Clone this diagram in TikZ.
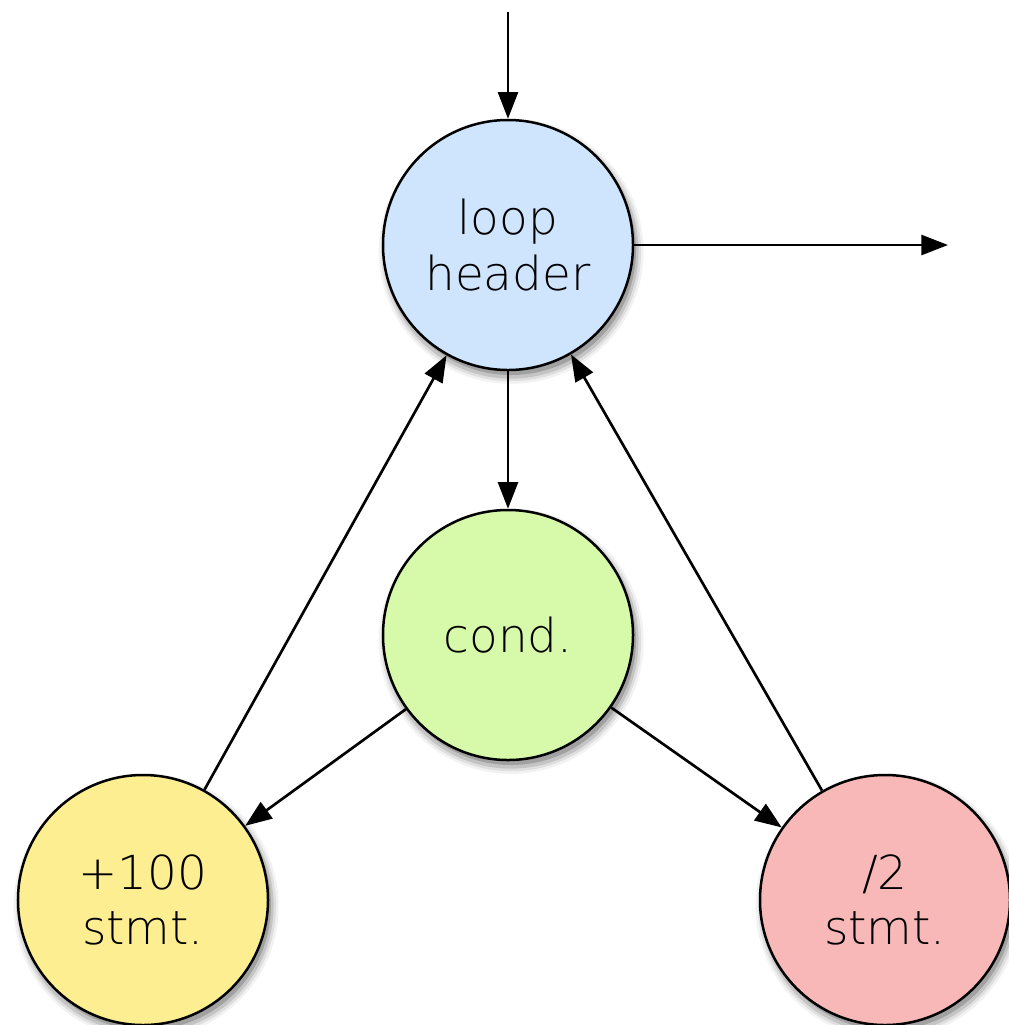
\documentclass[tikz,border=0pt]{standalone}
\usepackage{fontspec}
\setmainfont{DejaVu Sans ExtraLight}
\usetikzlibrary{arrows.meta,shadows}
\definecolor{cblue}{RGB}{207,228,253}
\definecolor{cgreen}{RGB}{214,250,170}
\definecolor{cyellow}{RGB}{254,238,146}
\definecolor{cpink}{RGB}{248,184,184}
\tikzset{
  softshadow/.style={
    general shadow={fill=black, opacity=0.05, shadow xshift=3*0.03cm, shadow yshift=-6*0.03cm, shadow scale=1.06},
    general shadow={fill=black, opacity=0.08, shadow xshift=3*0.03cm, shadow yshift=-6*0.03cm, shadow scale=1.04},
    general shadow={fill=black, opacity=0.12, shadow xshift=3*0.03cm, shadow yshift=-6*0.03cm, shadow scale=1.02},
    general shadow={fill=black, opacity=0.18, shadow xshift=3*0.03cm, shadow yshift=-5*0.03cm, shadow scale=1.00},
  },
  blob/.style={circle, draw=black, line width=0.075cm, minimum size=7.5cm, inner sep=0pt,
    align=center, font=\fontsize{40}{47}\selectfont, softshadow},
  conn/.style={line width=0.08cm, -{Triangle[length=0.8cm, width=0.6cm]}},
}
\begin{document}
\begin{tikzpicture}[x=0.03cm, y=-0.03cm]
\useasboundingbox (0,0) rectangle (1009,1025);
\node[blob, fill=cblue] (loop) at (508,245) {loop\\header};
\node[blob, fill=cgreen] (cond) at (508,635) {cond.};
\node[blob, fill=cyellow] (add) at (143,900) {+100\\stmt.};
\node[blob, fill=cpink] (div) at (885,900) {/2\\stmt.};
\coordinate (entry) at (508,12);
\coordinate (exit) at (948,245);
\draw[conn] (entry) -- (loop);
\draw[conn] (loop.east) -- (exit);
\draw[conn] (loop) -- (cond);
\draw[conn] (add) -- (loop);
\draw[conn] (div) -- (loop);
\draw[conn] (cond) -- (add);
\draw[conn] (cond) -- (div);
\end{tikzpicture}
\end{document}
